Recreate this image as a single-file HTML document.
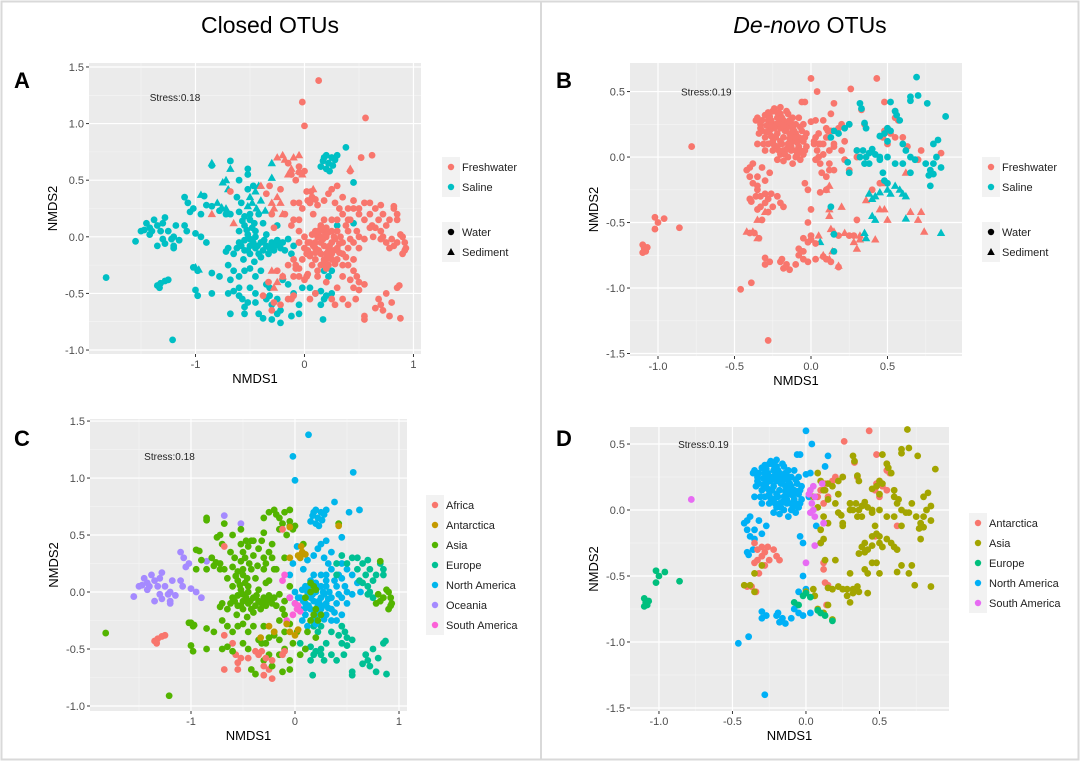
<!DOCTYPE html>
<html><head><meta charset="utf-8">
<style>
html,body{margin:0;padding:0;background:#fff;}
svg{display:block;font-family:"Liberation Sans",Arial,sans-serif;}
</style></head>
<body>
<svg id="fig" width="1080" height="761" viewBox="0 0 1080 761">
<rect x="1.5" y="1.5" width="1077" height="758" fill="#fff" stroke="#d9d9d9" stroke-width="2"/>
<line x1="541" y1="2" x2="541" y2="759" stroke="#d9d9d9" stroke-width="2"/>
<text x="270" y="33" font-size="23" text-anchor="middle">Closed OTUs</text>
<text x="810" y="33" font-size="23" text-anchor="middle"><tspan font-style="italic">De-novo</tspan> OTUs</text>
</svg>
<script>
// ---------- data: closed-OTU ordination (panels A & C) ----------
const closedGroups = [
 {h:'S',t:'W',c:'Oceania',pts:[[-1.45,0.12],[-1.42,0.08],[-1.38,0.15],[-1.35,0.1],[-1.3,0.12],[-1.32,0.05],[-1.4,0.05],[-1.47,0.06],[-1.5,0.05],[-1.28,0.17],[-1.25,0.05],[-1.2,0.0],[-1.18,0.1],[-1.22,-0.02],[-1.3,-0.02],[-1.35,-0.08],[-1.28,-0.06],[-1.1,0.1],[-1.08,0.05],[-1.15,-0.03],[-1.2,-0.08],[-1.0,0.03],[-0.95,0.0],[-0.9,-0.05],[-1.55,-0.04],[-1.1,0.35],[-1.07,0.3],[-1.02,0.25],[-1.05,0.22],[-0.85,0.27],[-0.68,0.67],[-0.52,0.6],[-1.2,-0.1],[-1.42,0.02]]},
 {h:'S',t:'W',c:'Africa',pts:[[-1.35,-0.43],[-1.32,-0.41],[-1.28,-0.39],[-1.25,-0.38],[-1.33,-0.45]]},
 {h:'S',t:'W',c:'Asia',pts:[[-1.82,-0.36],[-1.21,-0.91],[-1.0,-0.47],[-0.98,-0.52],[-0.85,-0.5],[-1.02,-0.27],[-0.98,-0.3],[-0.92,0.36],[-0.95,0.2],[-0.85,0.63],[-0.78,0.23],[-0.9,0.28]]},
 {h:'S',t:'D',c:'Asia',pts:[[-0.85,0.65],[-0.72,0.5],[-0.68,0.6],[-0.75,0.48],[-0.7,0.42],[-0.8,0.3],[-0.76,0.26],[-0.72,0.25],[-0.95,0.37],[-1.0,-0.27],[-0.97,-0.29],[-0.45,0.4],[-0.5,0.35],[-0.42,0.45],[-0.3,0.52],[-0.3,0.65],[-0.48,0.3],[-0.4,0.32],[-0.44,0.25],[-0.52,0.27],[-0.36,0.23]]},
 {h:'S',t:'W',c:'Asia',pts:[[-0.6,0.22],[-0.55,0.18],[-0.5,0.15],[-0.55,0.1],[-0.6,0.05],[-0.52,0.02],[-0.48,0.08],[-0.45,0.0],[-0.55,-0.03],[-0.6,-0.05],[-0.5,-0.08],[-0.45,-0.1],[-0.4,-0.05],[-0.35,-0.08],[-0.3,-0.05],[-0.25,-0.03],[-0.2,-0.05],[-0.15,-0.02],[-0.38,-0.12],[-0.42,-0.15],[-0.5,-0.15],[-0.55,-0.12],[-0.62,-0.1],[-0.7,-0.1],[-0.72,-0.13],[-0.65,-0.15],[-0.33,-0.15],[-0.28,-0.12],[-0.22,-0.1],[-0.18,-0.12],[-0.58,0.3],[-0.52,0.42],[-0.47,0.45],[-0.42,0.2],[-0.38,0.12],[-0.45,0.05],[-0.62,0.35],[-0.68,0.2],[-0.72,0.2],[-0.56,-0.2],[-0.46,-0.22],[-0.4,-0.18],[-0.35,0.02],[-0.52,0.55],[-0.6,0.5],[-0.25,0.1],[-0.1,-0.08],[-0.12,-0.15],[-0.53,0.06],[-0.5,-0.02],[-0.47,-0.05],[-0.43,-0.08],[-0.37,-0.03],[-0.32,-0.1],[-0.27,-0.08],[-0.23,-0.06],[-0.57,0.14],[-0.5,0.2],[-0.46,0.12],[-0.58,-0.08],[-0.52,-0.12]]},
 {h:'S',t:'W',c:'Africa',pts:[[-0.68,-0.38],[-0.68,-0.68],[-0.6,-0.45],[-0.57,-0.55],[-0.55,-0.68],[-0.55,-0.62],[-0.52,-0.58],[-0.45,-0.58],[-0.35,-0.55],[-0.32,-0.52],[-0.3,-0.73],[-0.25,-0.68],[-0.22,-0.76]]},
 {h:'S',t:'W',c:'Asia',pts:[[-0.7,-0.25],[-0.65,-0.3],[-0.6,-0.35],[-0.55,-0.3],[-0.5,-0.28],[-0.45,-0.35],[-0.4,-0.3],[-0.7,-0.5],[-0.65,-0.48],[-0.6,-0.52],[-0.42,-0.68],[-0.38,-0.72],[-0.3,-0.6],[-0.22,-0.65],[-0.25,-0.55],[-0.5,-0.45],[-0.45,-0.5],[-0.35,-0.42],[-0.32,-0.45],[-0.2,-0.38],[-0.15,-0.42],[-0.1,-0.5],[-0.05,-0.6],[-0.05,-0.68],[-0.12,-0.7],[-0.02,-0.45],[-0.85,-0.32],[-0.78,-0.35]]},
 {h:'S',t:'W',c:'Europe',pts:[[0.05,-0.45],[0.1,-0.5],[0.15,-0.48],[0.18,-0.55],[0.17,-0.73],[0.2,-0.52],[0.25,-0.5],[0.15,-0.6],[0.22,-0.35],[0.25,-0.3],[0.18,-0.3]]},
 {h:'S',t:'W',c:'North America',pts:[[0.15,0.62],[0.18,0.7],[0.2,0.72],[0.22,0.65],[0.25,0.7],[0.28,0.68],[0.3,0.72],[0.2,0.6],[0.23,0.58],[0.17,0.67],[0.26,0.63],[0.38,0.79],[0.45,0.48],[0.45,0.12],[0.3,0.1]]},
 {h:'F',t:'W',c:'North America',pts:[[0.13,1.38],[-0.02,1.19],[0.0,0.98],[0.56,1.05],[0.62,0.72],[0.52,0.7]]},
 {h:'F',t:'D',c:'Asia',pts:[[-0.25,0.7],[-0.2,0.72],[-0.18,0.68],[-0.1,0.7],[-0.05,0.72],[-0.15,0.55],[-0.12,0.6],[-0.05,0.58],[-0.02,0.55],[-0.3,0.3],[-0.28,0.25],[-0.25,0.35],[-0.22,0.3],[-0.2,0.2],[-0.85,0.2],[-0.4,0.45],[-0.28,-0.45],[-0.2,-0.35],[-0.3,-0.3],[0.08,0.42],[0.42,0.6],[-0.65,0.12],[-0.25,-0.4]]},
 {h:'F',t:'W',c:'North America',pts:[[0.0,0.0],[0.05,-0.05],[0.1,-0.1],[0.15,-0.05],[0.2,0.0],[0.25,-0.05],[0.3,-0.1],[0.35,-0.05],[0.1,0.05],[0.15,0.1],[0.2,0.08],[0.05,-0.15],[0.1,-0.2],[0.15,-0.15],[0.2,-0.2],[0.25,-0.15],[0.3,-0.2],[0.35,-0.15],[0.4,-0.1],[0.45,-0.05],[0.5,0.0],[0.55,-0.02],[0.0,-0.1],[-0.05,-0.05],[0.08,0.2],[0.12,0.28],[0.18,0.32],[0.22,0.38],[0.25,0.42],[0.28,0.3],[0.32,0.25],[0.35,0.35],[0.3,0.45],[0.35,0.2],[0.38,0.1],[0.42,0.15],[0.4,0.05],[0.3,0.05],[0.25,0.15],[-0.05,0.15],[-0.02,0.25],[0.05,0.3],[0.02,0.4],[0.45,0.25],[0.5,0.2],[0.55,0.15],[0.5,-0.1],[0.45,-0.2],[0.4,-0.25],[0.12,0.0],[0.18,-0.08],[0.22,-0.12],[0.28,-0.02],[0.33,0.0],[0.07,-0.25],[0.12,-0.3],[0.2,-0.28],[0.25,0.05],[0.35,-0.25],[0.6,0.08],[0.63,0.0],[0.08,-0.08],[0.13,-0.12],[0.17,-0.02],[0.23,-0.08],[0.27,-0.12],[0.32,-0.06],[0.07,0.02],[0.13,0.05],[0.22,0.04],[0.27,0.0],[0.32,-0.14],[0.28,-0.24],[0.23,-0.18],[0.17,-0.24],[0.1,-0.14],[0.03,-0.05],[0.38,-0.18],[0.42,-0.02],[0.48,0.05],[0.18,0.15],[0.3,0.15]]},
 {h:'F',t:'W',c:'Asia',pts:[[0.1,-0.05],[0.15,0.0],[0.18,0.05],[0.2,-0.15],[0.18,-0.2],[0.15,-0.25],[0.22,-0.25],[0.25,-0.2],[0.12,-0.35],[0.2,-0.4],[0.15,0.08],[0.2,0.02],[0.02,-0.35],[-0.05,-0.28],[-0.1,-0.2],[-0.15,-0.25],[-0.05,0.05],[-0.08,0.5],[-0.05,0.62],[-0.15,0.65],[0.0,0.58],[-0.35,0.38],[-0.32,0.45],[-0.22,0.42],[-0.18,0.2],[-0.3,0.2],[-0.28,0.08],[-0.1,0.3],[0.1,-0.5],[0.05,-0.55],[-0.15,-0.55],[-0.1,-0.35]]},
 {h:'F',t:'W',c:'South America',pts:[[-0.05,-0.05],[0.0,-0.1],[0.02,-0.15],[0.05,-0.17],[0.03,-0.12],[-0.02,-0.2],[-0.08,-0.25],[-0.1,0.15],[-0.12,0.1]]},
 {h:'F',t:'W',c:'Antarctica',pts:[[0.05,0.3],[0.07,0.35],[0.1,0.33],[0.06,0.4],[0.03,0.32],[0.42,0.58],[-0.25,-0.3],[-0.2,-0.35],[-0.08,-0.28],[-0.05,-0.35],[0.0,-0.38],[0.03,-0.33],[-0.33,-0.4],[-0.05,0.3],[-0.05,0.57]]},
 {h:'F',t:'W',c:'Europe',pts:[[0.6,0.3],[0.65,0.25],[0.7,0.28],[0.72,0.2],[0.68,0.15],[0.75,0.1],[0.78,0.15],[0.82,0.25],[0.85,0.2],[0.85,0.15],[0.7,0.05],[0.65,0.08],[0.72,0.0],[0.6,0.2],[0.55,0.3],[0.5,0.25],[0.45,0.32],[0.4,0.25],[0.4,0.15],[0.7,-0.02],[0.75,-0.05],[0.62,0.1],[0.45,-0.3],[0.48,-0.35],[0.5,-0.4],[0.45,-0.45],[0.42,-0.38],[0.5,-0.47],[0.55,-0.42],[0.47,-0.55],[0.55,-0.7],[0.55,-0.73],[0.65,-0.63],[0.7,-0.6],[0.72,-0.65],[0.68,-0.55],[0.75,-0.5],[0.8,-0.58],[0.78,-0.7],[0.88,-0.72],[0.85,-0.45],[0.87,-0.43],[0.35,-0.55],[0.4,-0.6],[0.3,-0.45],[0.35,-0.35],[0.25,-0.55],[0.28,-0.6]]},
 {h:'F',t:'W',c:'Asia',pts:[[0.9,0.0],[0.92,-0.05],[0.93,-0.1],[0.9,-0.15],[0.88,0.02],[0.82,-0.08],[0.78,-0.1],[0.92,-0.12],[0.85,-0.05],[0.82,0.27],[0.8,-0.02]]},
 {h:'F',t:'W',c:'Africa',pts:[[-0.28,-0.58],[-0.22,-0.6],[-0.3,-0.65],[-0.38,-0.52],[-0.1,-0.52],[-0.12,-0.55],[-0.68,0.4],[-0.12,0.55]]}
];
// ---------- data: de-novo OTU ordination (panels B & D) ----------
const denovoGroups = [
 {h:'F',t:'W',c:'North America',pts:[[-0.35,0.3],[-0.33,0.25],[-0.3,0.32],[-0.28,0.28],[-0.25,0.35],[-0.22,0.3],[-0.2,0.33],[-0.18,0.28],[-0.15,0.25],[-0.12,0.22],[-0.1,0.18],[-0.08,0.15],[-0.05,0.12],[-0.32,0.2],[-0.3,0.15],[-0.27,0.2],[-0.25,0.12],[-0.22,0.18],[-0.2,0.22],[-0.18,0.15],[-0.15,0.1],[-0.12,0.12],[-0.1,0.05],[-0.08,0.08],[-0.05,0.02],[-0.25,0.05],[-0.22,0.08],[-0.2,0.02],[-0.18,0.05],[-0.15,0.0],[-0.13,0.05],[-0.1,0.0],[-0.07,-0.02],[-0.03,0.08],[-0.03,0.18],[-0.05,0.25],[-0.08,0.3],[-0.12,0.3],[-0.15,0.33],[-0.17,0.2],[-0.23,0.25],[-0.28,0.1],[-0.34,0.18],[-0.36,0.28],[-0.3,0.05],[-0.2,0.38],[-0.24,0.37],[-0.16,0.35],[-0.1,0.25],[-0.06,0.2],[-0.14,0.18],[-0.19,0.1],[-0.26,0.28],[-0.12,-0.05],[-0.18,-0.03],[-0.22,-0.02],[-0.04,0.42],[-0.06,0.42],[0.0,0.6],[0.04,0.5],[0.0,0.27],[0.02,0.1],[0.15,0.41],[0.13,0.33],[0.03,0.28],
  [-0.32,0.28],[-0.29,0.24],[-0.27,0.31],[-0.24,0.22],[-0.21,0.26],[-0.19,0.3],[-0.16,0.22],[-0.13,0.26],[-0.11,0.15],[-0.09,0.11],[-0.07,0.05],[-0.06,0.14],[-0.14,0.14],[-0.16,0.06],[-0.2,0.12],[-0.23,0.15],[-0.26,0.16],[-0.29,0.19],[-0.33,0.22],[-0.21,0.05],[-0.17,0.02],[-0.13,0.08],[-0.09,0.02],[-0.11,0.2],[-0.18,0.24],[-0.22,0.34],[-0.28,0.34],[-0.31,0.1],[-0.24,0.09],[-0.04,0.05],[-0.26,0.24],[-0.14,0.28],[-0.07,0.23],[-0.04,0.15]]},
 {h:'F',t:'W',c:'North America',pts:[[-0.4,-0.08],[-0.42,-0.1],[-0.38,-0.05],[-0.35,-0.15],[-0.4,-0.15],[-0.38,-0.2],[-0.35,-0.22],[-0.32,-0.08],[-0.3,-0.18],[-0.27,-0.12],[-0.4,-0.32],[-0.39,-0.34],[-0.36,-0.3],[-0.35,0.1],[-0.02,-0.5],[-0.05,-0.62],[0.0,-0.6],[-0.28,-1.4],[-0.46,-1.01],[-0.39,-0.96],[-0.3,-0.77],[-0.3,-0.82],[-0.27,-0.8],[-0.2,-0.8],[-0.18,-0.85],[-0.16,-0.82],[-0.14,-0.86],[-0.19,-0.78],[-0.08,-0.75],[-0.1,-0.82],[-0.05,-0.78],[-0.02,-0.8],[0.03,-0.78],[-0.06,-0.72],[-0.02,-0.25],[0.07,-0.12],[0.1,-0.25],[-0.04,-0.2]]},
 {h:'F',t:'W',c:'Antarctica',pts:[[-0.35,-0.25],[-0.33,-0.3],[-0.3,-0.28],[-0.28,-0.32],[-0.26,-0.28],[-0.22,-0.3],[-0.2,-0.35],[-0.18,-0.38],[-0.3,-0.35],[-0.33,-0.38],[-0.28,-0.42],[-0.25,-0.38],[-0.32,-0.48],[-0.35,-0.4],[-0.4,-0.58],[-0.37,-0.58],[-0.34,-0.62],[0.15,0.1],[0.18,0.22],[0.2,0.25],[0.13,0.2],[0.1,0.15],[0.25,0.25],[0.35,0.25],[0.33,0.36],[0.48,0.2],[0.5,0.22],[0.52,0.18],[0.47,0.15],[0.55,0.3],[0.55,0.35],[0.57,0.28],[0.48,0.42],[0.5,0.1],[0.55,0.15],[0.12,0.05],[0.08,0.1],[0.26,0.52],[0.43,0.6]]},
 {h:'F',t:'D',c:'Antarctica',pts:[[0.12,-0.4],[0.12,-0.45],[0.13,-0.55],[0.15,-0.57],[0.14,-0.72],[0.47,-0.2],[0.62,-0.12]]},
 {h:'F',t:'D',c:'Asia',pts:[[-0.42,-0.57],[-0.38,-0.57],[-0.35,-0.62],[-0.35,-0.48],[-0.3,-0.42],[0.1,-0.25],[0.12,-0.22],[0.2,-0.38],[0.22,-0.58],[0.28,-0.65],[0.3,-0.7],[0.32,-0.6],[0.36,-0.33],[0.42,-0.63],[0.45,-0.4],[0.48,-0.4],[0.5,-0.48],[0.65,-0.42],[0.72,-0.42],[0.74,-0.57],[0.7,-0.48],[0.05,-0.6],[0.0,-0.62],[0.08,-0.75],[0.12,-0.78],[0.18,-0.83],[0.32,-0.63]]},
 {h:'F',t:'W',c:'Asia',pts:[[0.08,0.28],[0.1,0.22],[0.12,0.15],[0.15,0.08],[0.2,0.05],[0.22,0.12],[0.05,0.1],[0.08,0.02],[0.12,-0.05],[0.15,-0.1],[0.1,-0.15],[0.22,-0.02],[0.25,-0.1],[0.3,0.0],[0.3,0.05],[0.6,0.15],[0.63,0.08],[0.7,-0.02],[0.72,0.05],[0.85,0.03],[0.3,-0.48],[0.28,-0.6],[0.25,-0.6],[0.18,-0.6],[0.45,-0.2],[0.4,-0.25]]},
 {h:'S',t:'W',c:'Asia',pts:[[0.13,0.15],[0.15,0.2],[0.18,0.18],[0.22,0.22],[0.25,0.25],[0.32,0.41],[0.33,0.37],[0.35,0.26],[0.36,0.22],[0.3,0.05],[0.32,0.0],[0.34,0.05],[0.36,0.0],[0.38,0.03],[0.4,0.06],[0.42,0.02],[0.45,0.0],[0.35,-0.05],[0.38,-0.05],[0.45,0.16],[0.48,0.18],[0.5,0.22],[0.52,0.2],[0.5,0.12],[0.52,0.42],[0.55,0.35],[0.56,0.32],[0.58,0.28],[0.6,0.1],[0.62,0.05],[0.65,0.0],[0.68,-0.02],[0.55,-0.05],[0.6,-0.05],[0.65,-0.12],[0.7,0.47],[0.65,0.43],[0.65,0.46],[0.76,0.41],[0.69,0.61],[0.88,0.31],[0.75,-0.05],[0.78,-0.1],[0.8,-0.05],[0.82,0.0],[0.8,0.1],[0.83,0.13],[0.85,-0.08],[0.8,-0.13],[0.77,-0.14],[0.78,-0.22],[0.47,-0.12],[0.48,-0.18],[0.5,-0.2],[0.45,-0.02],[0.25,-0.12],[0.5,0.0],[0.24,-0.04],[0.13,-0.38],[0.15,-0.59],[0.15,-0.72]]},
 {h:'S',t:'D',c:'Asia',pts:[[0.38,-0.28],[0.4,-0.32],[0.42,-0.3],[0.45,-0.27],[0.5,-0.25],[0.52,-0.28],[0.55,-0.22],[0.58,-0.25],[0.6,-0.28],[0.62,-0.3],[0.4,-0.45],[0.42,-0.48],[0.35,-0.58],[0.36,-0.62],[0.62,-0.47],[0.85,-0.58],[0.06,-0.65]]},
 {h:'F',t:'W',c:'Europe',pts:[[-1.1,-0.67],[-1.09,-0.7],[-1.08,-0.72],[-1.07,-0.69],[-1.1,-0.73],[-1.02,-0.46],[-1.0,-0.5],[-0.96,-0.47],[-1.02,-0.55],[-0.86,-0.54],[-0.08,-0.7],[-0.05,-0.72],[0.0,-0.63],[-0.02,-0.65],[0.08,-0.76],[0.1,-0.78],[0.13,-0.8],[0.18,-0.84],[0.03,-0.66]]},
 {h:'F',t:'W',c:'South America',pts:[[-0.78,0.08],[0.03,0.15],[0.05,0.18],[0.02,0.12],[0.06,0.1],[0.04,0.05],[0.03,-0.02],[0.06,-0.05],[0.05,0.0],[0.0,-0.4],[0.06,-0.27],[0.12,-0.1],[0.11,0.2]]}
];
// ---------- tick labels ----------
const closedXTicks = [-1, 0, 1];
const closedXTickLabels = ['-1', '0', '1'];
const closedYTicks = [-1, -0.5, 0, 0.5, 1, 1.5];
const closedYTickLabels = ['-1.0', '-0.5', '0.0', '0.5', '1.0', '1.5'];
const denovoXTicks = [-1, -0.5, 0, 0.5];
const denovoXTickLabels = ['-1.0', '-0.5', '0.0', '0.5'];
const denovoYTicks = [-1.5, -1, -0.5, 0, 0.5];
const denovoYTickLabels = ['-1.5', '-1.0', '-0.5', '0.0', '0.5'];
const habitatLevels = ['Freshwater', 'Saline'];
const typeLevels = ['Water', 'Sediment'];
const closedContinents = ['Africa','Antarctica','Asia','Europe','North America','Oceania','South America'];
const denovoContinents = ['Antarctica','Asia','Europe','North America','South America'];
const stressClosed = 'Stress:0.18';
const stressDenovo = 'Stress:0.19';

const habColor = {Freshwater:'#F8766D', Saline:'#00BFC4'};
const contColor7 = {'Africa':'#F8766D','Antarctica':'#C49A00','Asia':'#53B400','Europe':'#00C094','North America':'#00B6EB','Oceania':'#A58AFF','South America':'#FB61D7'};
const contColor5 = {'Antarctica':'#F8766D','Asia':'#A3A500','Europe':'#00BF7D','North America':'#00B0F6','South America':'#E76BF3'};

const NS='http://www.w3.org/2000/svg';
const svg=document.getElementById('fig');
function mk(tag, attrs, parent){const e=document.createElementNS(NS,tag);for(const k in attrs)e.setAttribute(k,attrs[k]);(parent||svg).appendChild(e);return e;}

function panel(cfg){
  const g=mk('g',{});
  
  
  const {px0,px1,py0,py1,xd,yd}=cfg;
  const sx=v=>px0+(v-xd[0])/(xd[1]-xd[0])*(px1-px0);
  const sy=v=>py1-(v-yd[0])/(yd[1]-yd[0])*(py1-py0);
  const bg=mk('rect',{x:px0,y:py0,width:px1-px0,height:py1-py0,fill:'#EBEBEB'},g);
  
  
  const xs=cfg.xt, ys=cfg.yt, xstep=xs[1]-xs[0], ystep=ys[1]-ys[0];
  for(let v=xs[0]-xstep/2; v<=xd[1]; v+=xstep){ if(v<xd[0])continue;
    const l=mk('line',{x1:sx(v),x2:sx(v),y1:py0,y2:py1,stroke:'#F5F5F5','stroke-width':0.6},g);
    
    }
  for(let v=ys[0]-ystep/2; v<=yd[1]; v+=ystep){ if(v<yd[0])continue;
    const l=mk('line',{x1:px0,x2:px1,y1:sy(v),y2:sy(v),stroke:'#F5F5F5','stroke-width':0.6},g);
    
    }
  xs.forEach((v,i)=>{
    const l=mk('line',{x1:sx(v),x2:sx(v),y1:py0,y2:py1,stroke:'#fff','stroke-width':1.2},g);
    
    
    const tk=mk('line',{x1:sx(v),x2:sx(v),y1:py1,y2:py1+3,stroke:'#333','stroke-width':1},g);
    
    
    const t=mk('text',{x:sx(v),y:py1+14,'font-size':11,fill:'#4D4D4D','text-anchor':'middle'},g);
    t.textContent=cfg.xl[i];
    
    
  });
  ys.forEach((v,i)=>{
    const l=mk('line',{x1:px0,x2:px1,y1:sy(v),y2:sy(v),stroke:'#fff','stroke-width':1.2},g);
    
    
    const tk=mk('line',{x1:px0-3,x2:px0,y1:sy(v),y2:sy(v),stroke:'#333','stroke-width':1},g);
    
    
    const t=mk('text',{x:px0-5,y:sy(v)+4,'font-size':11,fill:'#4D4D4D','text-anchor':'end'},g);
    t.textContent=cfg.yl[i];
    
    
  });
  const xt=mk('text',{x:(px0+px1)/2,y:py1+29,'font-size':13,'text-anchor':'middle'},g);
  xt.textContent='NMDS1';
  
  
  const yx=px0-32, yy=(py0+py1)/2;
  const yt=mk('text',{x:yx,y:yy,'font-size':13,'text-anchor':'middle',transform:`rotate(-90 ${yx} ${yy})`},g);
  yt.textContent='NMDS2';
  
  
  const st=mk('text',{x:sx(cfg.stressPos[0]),y:sy(cfg.stressPos[1]),'font-size':10,fill:'#222'},g);
  st.textContent=cfg.stress;
  
  
  const lt=mk('text',{x:cfg.letter[0],y:cfg.letter[1],'font-size':22,'font-weight':'bold'},g);
  lt.textContent=cfg.letterText;
  
  
  cfg.groups.forEach(gr=>{
    const col=cfg.colorOf(gr);
    const tri = cfg.useShape && gr.t==='D';
    gr.pts.forEach(p=>{
      const cx=sx(p[0]), cy=sy(p[1]);
      let m;
      if(tri){ m=mk('polygon',{points:`${cx},${cy-4.4} ${cx-4.2},${cy+3} ${cx+4.2},${cy+3}`,fill:col},g); }
      else { m=mk('circle',{cx:cx,cy:cy,r:3.4,fill:col},g); }
      
      
    });
  });
  cfg.legend.forEach(L=>{
    L.items.forEach((it,i)=>{
      const ky=L.y+i*20;
      const kb=mk('rect',{x:L.x,y:ky,width:18,height:20,fill:'#F2F2F2'},g);
      
      
      const cx=L.x+9, cy=ky+10;
      let m;
      if(it.shape==='tri') m=mk('polygon',{points:`${cx},${cy-4} ${cx-3.8},${cy+3} ${cx+3.8},${cy+3}`,fill:it.color},g);
      else m=mk('circle',{cx:cx,cy:cy,r:3.2,fill:it.color},g);
      
      
      const t=mk('text',{x:L.x+20,y:cy+4,'font-size':11,fill:'#222'},g);
      t.textContent=it.label;
      
      
    });
  });
}
const habLegend=(x)=>[{x:x,y:157,items:habitatLevels.map(l=>({label:l,color:habColor[l]}))},
  {x:x,y:222,items:typeLevels.map((l,i)=>({label:l,color:'#000',shape:i?'tri':'c'}))}];

panel({name:'panel-a-closed-habitat',px0:89,px1:421,py0:63,py1:354,xd:[-1.977,1.069],yd:[-1.035,1.535],
  xt:closedXTicks,xl:closedXTickLabels,yt:closedYTicks,yl:closedYTickLabels,stress:stressClosed,stressPos:[-1.42,1.2],
  letter:[14,88],letterText:'A',groups:closedGroups,useShape:true,
  colorOf:g=>habColor[g.h==='F'?'Freshwater':'Saline'],legend:habLegend(442)});
panel({name:'panel-b-denovo-habitat',px0:630,px1:962,py0:63,py1:356,xd:[-1.183,0.987],yd:[-1.519,0.718],
  xt:denovoXTicks,xl:denovoXTickLabels,yt:denovoYTicks,yl:denovoYTickLabels,stress:stressDenovo,stressPos:[-0.85,0.47],
  letter:[556,88],letterText:'B',groups:denovoGroups,useShape:true,
  colorOf:g=>habColor[g.h==='F'?'Freshwater':'Saline'],legend:habLegend(982)});
panel({name:'panel-c-closed-continent',px0:90,px1:407,py0:419,py1:711,xd:[-1.971,1.077],yd:[-1.044,1.518],
  xt:closedXTicks,xl:closedXTickLabels,yt:closedYTicks,yl:closedYTickLabels,stress:stressClosed,stressPos:[-1.45,1.16],
  letter:[14,446],letterText:'C',groups:closedGroups,useShape:false,
  colorOf:g=>contColor7[g.c],legend:[{x:426,y:495,items:closedContinents.map(l=>({label:l,color:contColor7[l]}))}]});
panel({name:'panel-d-denovo-continent',px0:630,px1:949,py0:427,py1:711,xd:[-1.197,0.973],yd:[-1.523,0.629],
  xt:denovoXTicks,xl:denovoXTickLabels,yt:denovoYTicks,yl:denovoYTickLabels,stress:stressDenovo,stressPos:[-0.87,0.47],
  letter:[556,446],letterText:'D',groups:denovoGroups,useShape:false,
  colorOf:g=>contColor5[g.c],legend:[{x:969,y:513,items:denovoContinents.map(l=>({label:l,color:contColor5[l]}))}]});
</script>
</body></html>
